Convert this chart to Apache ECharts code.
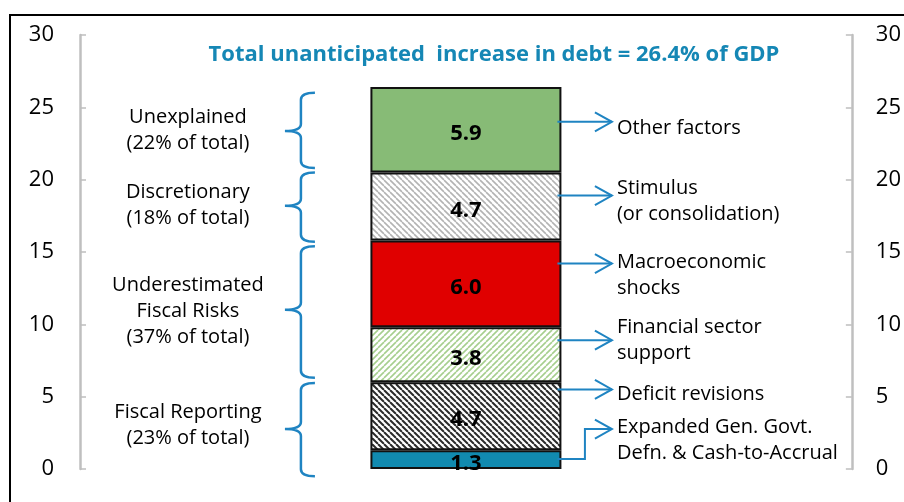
<!DOCTYPE html>
<html>
<head>
<meta charset="utf-8">
<script src="https://cdn.jsdelivr.net/npm/echarts@6/dist/echarts.min.js"></script>
<style>
  html, body { margin: 0; padding: 0; background: #fff; }
  #chart { width: 904px; height: 502px; }
</style>
</head>
<body>
<div id="chart"></div>
<script>
// stacked components, bottom to top
const segNames = ['Expanded Gen. Govt.', 'Deficit revisions', 'Financial sector support',
  'Macroeconomic shocks', 'Stimulus', 'Other factors']
const segValues = [1.3, 4.7, 3.8, 6.0, 4.7, 5.9]
const yTicks = [0, 5, 10, 15, 20, 25, 30]

// right-hand callouts (arrow leaves the bar at arrowStart, points at arrowEnd)
const rightLabels = ['Expanded Gen. Govt.\nDefn. & Cash-to-Accrual', 'Deficit revisions',
  'Financial sector\nsupport', 'Macroeconomic\nshocks', 'Stimulus\n(or consolidation)', 'Other factors']
const arrowStart = [0.69, 5.5, 8.9, 14.2, 18.9, 24.0]
const arrowEnd = [2.76, 5.5, 8.9, 14.2, 18.9, 24.0]
const rightTextLevel = [2.0, 5.18, 8.92, 13.41, 18.52, 23.57]

// left-hand braces
const leftLabels = ['Fiscal Reporting\n(23% of total)', 'Underestimated\nFiscal Risks\n(37% of total)',
  'Discretionary\n(18% of total)', 'Unexplained\n(22% of total)']
const braceLow = [-0.5, 6.3, 15.7, 20.8]
const braceHigh = [5.95, 15.4, 20.5, 26.0]
const braceTip = [2.76, 11.0, 18.2, 23.36]
const leftTextLevel = [3.04, 10.9, 18.2, 23.4]

const FONT = '"Open Sans", "Noto Sans", sans-serif'
const BLUE = '#1f84c2'

function hatch(fg, bg, size, width, dir) {
  const c = document.createElement('canvas')
  c.width = size; c.height = size
  const g = c.getContext('2d')
  g.fillStyle = bg
  g.fillRect(0, 0, size, size)
  g.strokeStyle = fg
  g.lineWidth = width
  for (let k = -1; k <= 1; k++) {
    g.beginPath()
    if (dir === '\\') { g.moveTo(k * size, 0); g.lineTo(k * size + size, size) }
    else { g.moveTo(k * size, size); g.lineTo(k * size + size, 0) }
    g.stroke()
  }
  return { image: c, repeat: 'repeat' }
}

const segFills = [
  '#118ab0',
  hatch('#2b2b2b', '#ffffff', 6, 2, '\\'),
  hatch('#a6cf8e', '#ffffff', 6, 1.6, '/'),
  '#e00000',
  hatch('#b3b3b3', '#ffffff', 6, 1.6, '\\'),
  '#87bb76'
]

const chart = echarts.init(document.getElementById('chart'))

const yAxisBase = {
  type: 'value', min: 0, max: 30, interval: 5,
  axisLine: { show: true, lineStyle: { color: '#bfbfbf', width: 2.5 } },
  axisTick: { show: true, inside: true, length: 6, lineStyle: { color: '#bfbfbf', width: 1.5 } },
  splitLine: { show: false },
  axisLabel: { color: '#000', fontSize: 22, fontFamily: FONT, formatter: v => yTicks.includes(v) ? String(v) : '' }
}

const BAR_W = 191

chart.setOption({
  animation: false,
  graphic: [
    { type: 'rect', shape: { x: 10, y: 15, width: 920, height: 520 },
      style: { fill: 'none', stroke: '#000', lineWidth: 2 }, silent: true },
    { type: 'text', x: 494, y: 55,
      style: { text: 'Total unanticipated  increase in debt = 26.4% of GDP', fill: '#1587b5',
        font: 'bold 22px ' + FONT, textAlign: 'center', textVerticalAlign: 'middle' } }
  ],
  grid: { left: 80, right: 50, top: 35, bottom: 33, containLabel: false },
  xAxis: { type: 'category', data: ['debt'], show: false },
  yAxis: [
    Object.assign({}, yAxisBase, { position: 'left', axisLabel: Object.assign({}, yAxisBase.axisLabel, { margin: 26 }) }),
    Object.assign({}, yAxisBase, { position: 'right', axisLabel: Object.assign({}, yAxisBase.axisLabel, { margin: 24 }) })
  ],
  series: [
    ...segValues.map((v, i) => ({
      name: segNames[i],
      type: 'bar',
      stack: 'debt',
      barWidth: BAR_W,
      data: [v],
      itemStyle: { color: segFills[i], borderColor: '#111', borderWidth: 2 },
      label: {
        show: true, position: 'inside', offset: [0, 4],
        formatter: p => p.value.toFixed(1),
        color: '#000', fontWeight: 'bold', fontSize: 22, fontFamily: FONT
      }
    })),
    {
      type: 'custom',
      name: 'braces',
      data: braceLow.map((lo, i) => [0, lo, braceHigh[i], braceTip[i], leftTextLevel[i]]),
      renderItem: (params, api) => {
        const cx = api.coord([0, 0])[0]
        const top = api.coord([0, api.value(2)])[1]
        const bot = api.coord([0, api.value(1)])[1]
        const mid = api.coord([0, api.value(3)])[1]
        const ty = api.coord([0, api.value(4)])[1]
        const tip = cx - 181, spine = cx - 165, end = cx - 151, r = 7
        const d = `M${end},${top} Q${spine},${top} ${spine},${top + r} L${spine},${mid - r} ` +
          `Q${spine},${mid} ${tip},${mid} Q${spine},${mid} ${spine},${mid + r} ` +
          `L${spine},${bot - r} Q${spine},${bot} ${end},${bot}`
        return {
          type: 'group',
          children: [
            { type: 'path', shape: { pathData: d },
              style: { fill: 'none', stroke: BLUE, lineWidth: 2.5 } },
            { type: 'text', x: cx - 278, y: ty,
              style: { text: leftLabels[params.dataIndex], fill: '#000', font: '20px ' + FONT,
                textAlign: 'center', textVerticalAlign: 'middle', lineHeight: 26 } }
          ]
        }
      },
      z: 3
    },
    {
      type: 'custom',
      name: 'callouts',
      data: arrowStart.map((s, i) => [0, s, arrowEnd[i], rightTextLevel[i]]),
      renderItem: (params, api) => {
        const cx = api.coord([0, 0])[0]
        const y0 = api.coord([0, api.value(1)])[1]
        const y1 = api.coord([0, api.value(2)])[1]
        const ty = api.coord([0, api.value(3)])[1]
        const x0 = cx + BAR_W / 2 - 4, elbow = cx + 119, tip = cx + 146
        const pts = Math.abs(y0 - y1) > 1
          ? [[x0, y0], [elbow, y0], [elbow, y1], [tip, y1]]
          : [[x0, y0], [tip, y1]]
        return {
          type: 'group',
          children: [
            { type: 'polyline', shape: { points: pts },
              style: { fill: 'none', stroke: BLUE, lineWidth: 2 } },
            { type: 'polyline', shape: { points: [[tip - 17, y1 - 9.5], [tip, y1], [tip - 17, y1 + 9.5]] },
              style: { fill: 'none', stroke: BLUE, lineWidth: 2 } },
            { type: 'text', x: tip + 5, y: ty,
              style: { text: rightLabels[params.dataIndex], fill: '#000', font: '20px ' + FONT,
                textAlign: 'left', textVerticalAlign: 'middle', lineHeight: 26 } }
          ]
        }
      },
      z: 3
    }
  ]
})
</script>
</body>
</html>
